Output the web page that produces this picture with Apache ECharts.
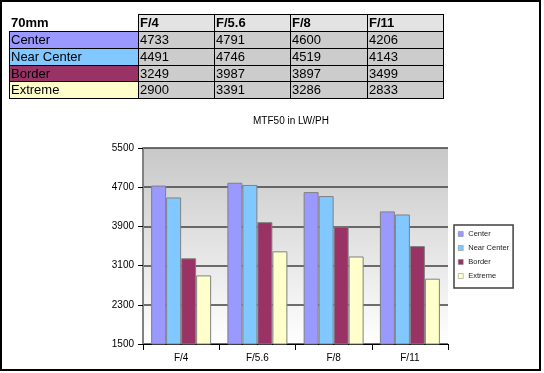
<!DOCTYPE html>
<html>
<head>
<meta charset="utf-8">
<script src="https://cdn.jsdelivr.net/npm/echarts@6/dist/echarts.min.js"></script>
<style>
html,body{margin:0;padding:0;background:#fff;}
#c{width:544px;height:373px;}
</style>
</head>
<body>
<div id="c"></div>
<script>
const categories = ['F/4', 'F/5.6', 'F/8', 'F/11'];
const seriesNames = ['Center', 'Near Center', 'Border', 'Extreme'];
const center = [4733, 4791, 4600, 4206];
const nearCenter = [4491, 4746, 4519, 4143];
const border = [3249, 3987, 3897, 3499];
const extreme = [2900, 3391, 3286, 2833];
const tableCorner = '70mm';
const chartTitle = 'MTF50 in LW/PH';
const yMin = 1500, yMax = 5500, yStep = 800;

const colors = ['#9999ff', '#80c8ff', '#993366', '#ffffcc'];
const values = [center, nearCenter, border, extreme];
const FONT = '"Liberation Sans", Arial, sans-serif';

// Table geometry
const colX = [9, 138, 214, 290, 367, 443];
const rowY = [14, 31, 48, 65, 81, 98];
const g = [];
for (let r = 0; r < 5; r++) {
  for (let c = 0; c < 5; c++) {
    let fill;
    if (r === 0 && c === 0) fill = '#ffffff';
    else if (r === 0) fill = '#e3e3e3';
    else if (c === 0) fill = colors[r - 1];
    else fill = '#cccccc';
    g.push({type: 'rect', silent: true, z: 1,
      shape: {x: colX[c], y: rowY[r], width: colX[c + 1] - colX[c], height: rowY[r + 1] - rowY[r]},
      style: {fill: fill}});
  }
}
for (let r = 1; r < 6; r++) {
  g.push({type: 'line', silent: true, z: 2,
    shape: {x1: colX[0], y1: rowY[r] + 0.5, x2: colX[5], y2: rowY[r] + 0.5},
    style: {stroke: '#000', lineWidth: 1}});
}
g.push({type: 'line', silent: true, z: 2,
  shape: {x1: colX[1], y1: rowY[0] + 0.5, x2: colX[5], y2: rowY[0] + 0.5},
  style: {stroke: '#000', lineWidth: 1}});
for (let c = 0; c < 6; c++) {
  g.push({type: 'line', silent: true, z: 2,
    shape: {x1: colX[c] + 0.5, y1: c === 0 ? rowY[1] : rowY[0], x2: colX[c] + 0.5, y2: rowY[5] + 1},
    style: {stroke: '#000', lineWidth: 1}});
}
function cellText(txt, c, r, bold) {
  g.push({type: 'text', silent: true, z: 3,
    x: colX[c] + 2, y: (rowY[r] + rowY[r + 1]) / 2 + 1,
    style: {text: txt, fill: '#000', font: (bold ? 'bold ' : '') + '13px ' + FONT,
      textAlign: 'left', textVerticalAlign: 'middle'}});
}
cellText(tableCorner, 0, 0, true);
categories.forEach((cat, i) => cellText(cat, i + 1, 0, true));
seriesNames.forEach((n, r) => {
  cellText(n, 0, r + 1, false);
  values[r].forEach((v, c) => cellText(String(v), c + 1, r + 1, false));
});
g.push({type: 'text', silent: true, x: 291, y: 121,
  style: {text: chartTitle, fill: '#000', font: '10px ' + FONT, textAlign: 'center', textVerticalAlign: 'middle'}});
g.push({type: 'rect', silent: true, z: 10,
  shape: {x: 1, y: 1, width: 539, height: 369},
  style: {fill: 'none', stroke: '#000', lineWidth: 2}});

const chart = echarts.init(document.getElementById('c'), null, {renderer: 'canvas'});
chart.setOption({
  animation: false,
  backgroundColor: '#ffffff',
  textStyle: {fontFamily: FONT},
  graphic: g,
  grid: {
    left: 143, right: 96, top: 148, bottom: 29, show: true, borderWidth: 0,
    backgroundColor: new echarts.graphic.LinearGradient(0, 0, 0, 1, [
      {offset: 0, color: '#c8c8c8'}, {offset: 1, color: '#ffffff'}])
  },
  legend: {
    orient: 'vertical', left: 454, top: 225,
    data: seriesNames,
    icon: 'rect', itemWidth: 5, itemHeight: 5, itemGap: 4,
    padding: [4, 4, 7, 4],
    borderColor: '#404040', borderWidth: 1.5,
    backgroundColor: '#ffffff',
    textStyle: {fontSize: 7.5, lineHeight: 10, color: '#222', fontFamily: FONT},
    itemStyle: {borderColor: '#808080', borderWidth: 0.5}
  },
  xAxis: {
    type: 'category', data: categories,
    axisLine: {lineStyle: {color: '#000', width: 1}},
    axisTick: {show: true, length: 6, lineStyle: {color: '#000'}},
    axisLabel: {fontSize: 10, color: '#000', margin: 9, fontFamily: FONT},
    splitLine: {show: false}
  },
  yAxis: {
    type: 'value', min: yMin, max: yMax, interval: yStep,
    axisLine: {show: true, lineStyle: {color: '#808080', width: 2}},
    axisTick: {show: true, length: 5, lineStyle: {color: '#000'}},
    axisLabel: {fontSize: 10, color: '#000', margin: 9, fontFamily: FONT,
      formatter: v => String(v)},
    splitLine: {show: true, lineStyle: {color: '#404040', width: 1.5}}
  },
  series: seriesNames.map((n, i) => ({
    name: n, type: 'bar', data: values[i],
    barWidth: 15, barGap: '0%',
    itemStyle: {color: colors[i], borderColor: '#808080', borderWidth: 1}
  }))
});
</script>
</body>
</html>
